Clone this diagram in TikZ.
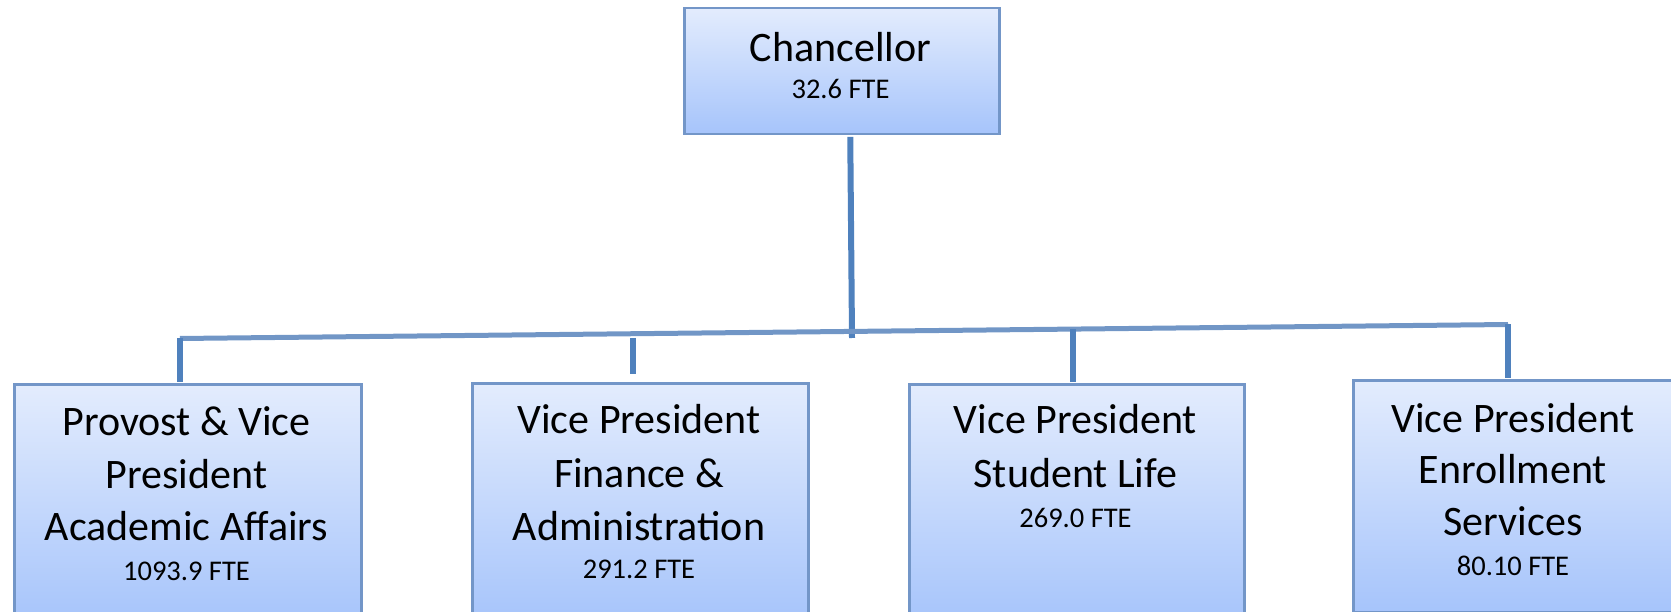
\documentclass[tikz,border=0pt]{standalone}
\usepackage{fontspec}
\setmainfont{Carlito}
\usetikzlibrary{calc}
\definecolor{boxtop}{HTML}{E3ECFD}
\definecolor{boxbot}{HTML}{A6C4FB}
\definecolor{boxline}{HTML}{7396C8}
\definecolor{vline}{HTML}{4F81BD}
\definecolor{hline}{HTML}{7196C6}
\tikzset{
  orgbox/.style={rectangle, draw=boxline, line width=2.5pt, top color=boxtop, bottom color=boxbot, anchor=north west, inner sep=0pt},
  bigtxt/.style={anchor=base, inner sep=0pt, font=\fontsize{42}{50}\selectfont},
  smalltxt/.style={anchor=base, inner sep=0pt, font=\fontsize{28.5}{34}\selectfont},
  vconn/.style={draw=vline, line width=6pt},
  hconn/.style={draw=hline, line width=5pt}
}
\begin{document}
\begin{tikzpicture}[x=1pt, y=-1pt]
\useasboundingbox (0,0) rectangle (1671,612);
\clip (0,0) rectangle (1671,612);
% junction coordinates
\coordinate (hL) at (180,338.5);
\coordinate (hR) at (1508,324.5);
\coordinate (jC) at (852,338);
\coordinate (s2) at (633,338);
\coordinate (j3) at (1073,329.3);
% boxes
\node[orgbox, minimum width=315pt, minimum height=126pt] (chan) at (683,7) {};
\node[orgbox, minimum width=347pt, minimum height=240pt] (b1) at (13,383) {};
\node[orgbox, minimum width=336pt, minimum height=240pt] (b2) at (471,382) {};
\node[orgbox, minimum width=335pt, minimum height=240pt] (b3) at (908,383) {};
\node[orgbox, minimum width=330pt, minimum height=232pt] (b4) at (1352,379) {};
% connectors
\draw[vconn, shorten <=1.3pt] ($(chan.south)+(8.5,0)$) -- (jC);
\draw[hconn] (hL) -- (hR);
\draw[vconn, shorten >=1.3pt] (hL) -- (hL |- b1.north);
\draw[vconn, shorten >=8pt] (s2) -- (s2 |- b2.north);
\draw[vconn, shorten >=1.3pt] (j3) -- (j3 |- b3.north);
\draw[vconn, shorten >=1.3pt] (hR) -- (hR |- b4.north);
% texts
\node[bigtxt] (c1) at (840.5,61.5) {Chancellor};
\node[smalltxt] (c2) at (840.5,98.5) {32.6 FTE};
\node[bigtxt] (p1) at (186.5,435) {Provost \& Vice};
\node[bigtxt] (p2) at (186.5,488) {President};
\node[bigtxt] (p3) at (186.5,540) {Academic Affairs};
\node[smalltxt] (p4) at (186.5,580) {1093.9 FTE};
\node[bigtxt] (f1) at (639,433) {Vice President};
\node[bigtxt] (f2) at (639,487) {Finance \&};
\node[bigtxt] (f3) at (639,540) {Administration};
\node[smalltxt] (f4) at (639,578) {291.2 FTE};
\node[bigtxt] (s1) at (1075.5,433) {Vice President};
\node[bigtxt] (sl2) at (1075.5,487) {Student Life};
\node[smalltxt] (sl3) at (1075.5,527) {269.0 FTE};
\node[bigtxt] (e1) at (1513,432) {Vice President};
\node[bigtxt] (e2) at (1513,483) {Enrollment};
\node[bigtxt] (e3) at (1513,535) {Services};
\node[smalltxt] (e4) at (1513,575) {80.10 FTE};
\end{tikzpicture}
\end{document}
